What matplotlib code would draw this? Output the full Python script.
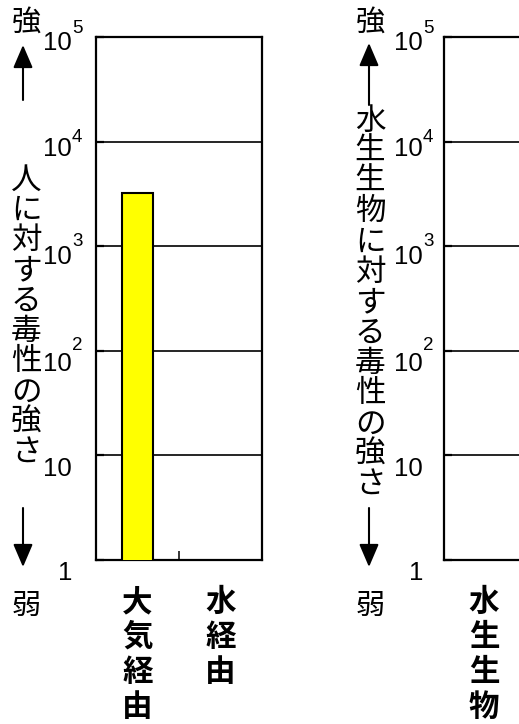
import numpy as np
import matplotlib
matplotlib.use('Agg')
import matplotlib.pyplot as plt
from matplotlib import transforms as mtrans
from matplotlib.patches import FancyArrowPatch, ArrowStyle
from matplotlib.ticker import NullLocator

plt.rcParams['font.family'] = ['Liberation Sans', 'DejaVu Sans']
JP = ['Noto Sans CJK JP', 'DejaVu Sans']

# データ
hito_kategori = ['大気経由', '水経由']
hito_dokusei = [3200, np.nan]
suisei_kategori = ['水生生物', '']
suisei_dokusei = [np.nan, np.nan]

y_ticks = [1, 10, 100, 1000, 10000, 100000]
y_kata = ['1', '10', '10', '10', '10', '10']
y_shisuu = ['', '', '2', '3', '4', '5']

hito_label = '人に対する毒性の強さ'
suisei_label = '水生生物に対する毒性の強さ'

W, H = 519, 724
fig = plt.figure(figsize=(W / 100, H / 100), dpi=100)


def fp(x, y):
    # 画像の左上からのピクセル -> figure座標
    return x / W, 1 - y / H


def tate(x, y0, moji, pitch, **kw):
    # 縦書き
    for i, c in enumerate(moji):
        fig.text(*fp(x, y0 + i * pitch), c, ha='center', va='center',
                 family=JP, **kw)


def yajirushi(x, y0, y1):
    fig.add_artist(FancyArrowPatch(fp(x, y0), fp(x, y1), transform=fig.transFigure,
                                   arrowstyle=ArrowStyle('-|>', head_length=14, head_width=6),
                                   mutation_scale=1, lw=1.5, color='k',
                                   shrinkA=0, shrinkB=0))


def panel(left_px, width_px, kategori, dokusei, label, lx, ly0, num_x):
    ax = fig.add_axes([left_px / W, (H - 560) / H, width_px / W, 523 / H])
    ax.set_yscale('log')
    ax.set_ylim(1, 1e5)
    ax.set_xlim(0, len(kategori))
    ax.set_axisbelow(True)
    ax.yaxis.set_minor_locator(NullLocator())
    ax.set_yticks(y_ticks)
    ax.yaxis.grid(True, color='k', lw=1.2)
    ax.tick_params(axis='y', direction='in', length=6, width=1.6, labelleft=False)
    ax.set_xticks(np.arange(1, len(kategori)))
    ax.tick_params(axis='x', direction='in', length=6.5, width=1.1, labelbottom=False)
    for s in ax.spines.values():
        s.set_linewidth(1.6)

    for i, v in enumerate(dokusei):
        if not np.isnan(v):
            ax.bar(i + 0.5, v, width=0.375, color='#ffff00', edgecolor='k', lw=1.5, zorder=3)

    # 目盛りラベル (10 と指数)
    sage = [20, 21, 20, 18, 14, 13]
    age = [0, 0, 1, 0, 0, 4]
    for v, k, s, d, u in zip(y_ticks, y_kata, y_shisuu, sage, age):
        tr = mtrans.blended_transform_factory(fig.transFigure, ax.transData)
        fig.text(num_x / W, v, k, ha='right', va='baseline', fontsize=18.5,
                 transform=tr + mtrans.ScaledTranslation(0, -d / 100, fig.dpi_scale_trans))
        if s:
            fig.text(num_x / W, v, s, ha='left', va='baseline', fontsize=13.5,
                     transform=tr + mtrans.ScaledTranslation(0, u / 100, fig.dpi_scale_trans))

    # カテゴリ名 (太字の縦書き)
    for i, name in enumerate(kategori):
        for j, c in enumerate(name):
            tr = mtrans.blended_transform_factory(ax.transData, ax.transAxes) + \
                mtrans.ScaledTranslation(0, -(42 + 35 * j) / 100, fig.dpi_scale_trans)
            ax.text(i + 0.5, 0, c, ha='center', va='center', family=JP,
                    fontsize=22, fontweight='bold', transform=tr, clip_on=False)

    # 軸ラベルと矢印
    fig.text(*fp(lx, 23), '強', ha='center', va='center', family=JP, fontsize=21)
    fig.text(*fp(lx, 606), '弱', ha='center', va='center', family=JP, fontsize=21)
    tate(lx, ly0, label, 30.3, fontsize=22)
    return ax


panel(96, 166, hito_kategori, hito_dokusei, hito_label, 26, 180, 72)
yajirushi(23, 100, 45)
yajirushi(23, 508, 567)

panel(444, 160, suisei_kategori, suisei_dokusei, suisei_label, 370, 121, 423)
yajirushi(369, 105, 43)
yajirushi(369, 508, 567)

fig.savefig('out.png', dpi=100)
